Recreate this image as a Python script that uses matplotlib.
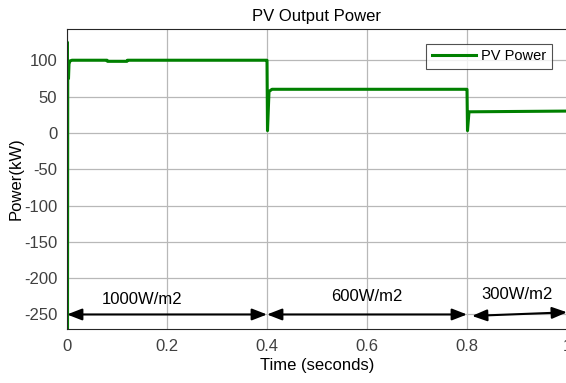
import matplotlib
matplotlib.use("Agg")
import matplotlib.pyplot as plt

plt.rcParams["font.family"] = ["Liberation Sans", "DejaVu Sans"]
plt.rcParams["axes.unicode_minus"] = False

# PV power trace (kW) read at key instants (seconds)
time_s = [0.0, 0.0005, 0.001, 0.0015, 0.003, 0.004, 0.006, 0.01, 0.08, 0.081, 0.12, 0.121,
          0.399, 0.4, 0.401, 0.404, 0.41, 0.799, 0.8, 0.801, 0.804, 1.0]
power_kw = [0, 125, -270, 100, 75, 95, 99, 100, 100, 98.5, 98.5, 100,
            100, 100, 3, 57, 60, 60, 60, 3, 29, 30]

irr_labels = ["1000W/m2", "600W/m2", "300W/m2"]
seg_start = [0.0, 0.4, 0.81]
seg_end = [0.4, 0.8, 1.0]
label_x = [0.15, 0.6, 0.9]
label_y = [-229, -225, -222]

fig = plt.figure(figsize=(5.66, 3.83), dpi=100)
ax = fig.add_axes([67/566, 1 - 329/383, 500/566, 300/383])
ax.plot(time_s, power_kw, color="#008000", lw=2.2, label="PV Power")
ax.set_xlim(0, 1)
ax.set_ylim(-270, 143)
ax.set_xticks([0, 0.2, 0.4, 0.6, 0.8, 1.0])
ax.set_xticklabels(["0", "0.2", "0.4", "0.6", "0.8", "1"])
ax.set_yticks([-250, -200, -150, -100, -50, 0, 50, 100])
ax.grid(True, color="#b8b8b8", lw=0.9)
ax.tick_params(labelsize=12, colors="#404040", length=0, pad=7)
for s in ax.spines.values():
    s.set_color("#262626")
ax.set_title("PV Output Power", fontsize=12, pad=6)
ax.set_xlabel("Time (seconds)", fontsize=12, labelpad=3)
ax.set_ylabel("Power(kW)", fontsize=12, labelpad=0)

for i in range(3):
    y0 = -252 if i == 2 else -250
    y1 = -247 if i == 2 else -250
    ax.annotate("", xy=(seg_end[i], y1), xytext=(seg_start[i], y0),
                arrowprops=dict(arrowstyle="<|-|>,head_length=0.9,head_width=0.35",
                                color="black", lw=1.5, shrinkA=0, shrinkB=0),
                annotation_clip=False)
    ax.text(label_x[i], label_y[i], irr_labels[i], ha="center", va="center", fontsize=12)

leg = ax.legend(loc="upper right", fontsize=10.5, frameon=True, fancybox=False,
                edgecolor="#262626", handlelength=3, borderaxespad=1.0,
                handletextpad=0.4, borderpad=0.4)
leg.get_frame().set_linewidth(0.8)
fig.savefig("out.png", dpi=100)
